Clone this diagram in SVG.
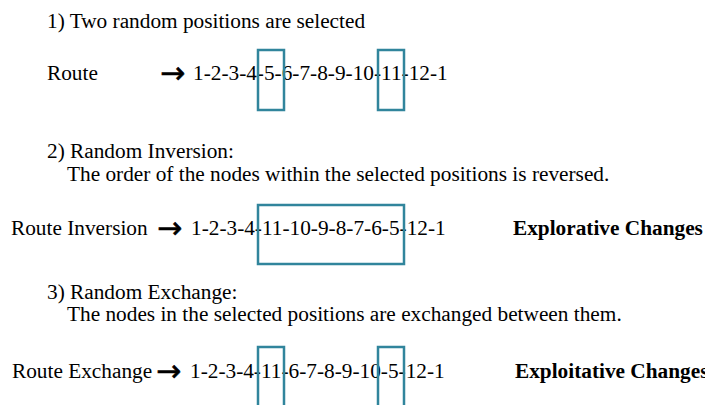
<svg xmlns="http://www.w3.org/2000/svg" width="705" height="405" viewBox="0 0 705 405">
<style>
text{font-family:"Liberation Serif","Times New Roman",serif;font-size:21.3px;fill:#000}
.b{font-weight:bold}
.arr{font-family:"DejaVu Sans",sans-serif;font-size:30px;stroke:#000;stroke-width:0.6}
.box{fill:none;stroke:#31859C;stroke-width:2.5}
</style>
<rect width="705" height="405" fill="#fff"/>
<g id="step1">
<text x="47" y="28">1) Two random positions are selected</text>
</g>
<g id="route">
<text x="47" y="80">Route</text>
<text class="arr" x="160" y="83">→</text>
<text x="193" y="80">1-2-3-4-5-6-7-8-9-10-11-12-1</text>
</g>
<g id="step2">
<text x="47" y="158">2) Random Inversion:</text>
<text x="67" y="181">The order of the nodes within the selected positions is reversed.</text>
</g>
<g id="inversion">
<text x="11" y="235">Route Inversion</text>
<text class="arr" x="157" y="238">→</text>
<text x="191" y="235">1-2-3-4-11-10-9-8-7-6-5-12-1</text>
<text class="b" x="513" y="235">Explorative Changes</text>
</g>
<g id="step3">
<text x="47" y="299">3) Random Exchange:</text>
<text x="67" y="321">The nodes in the selected positions are exchanged between them.</text>
</g>
<g id="exchange">
<text x="12" y="378">Route Exchange</text>
<text class="arr" x="156" y="381">→</text>
<text x="190" y="378">1-2-3-4-11-6-7-8-9-10-5-12-1</text>
<text class="b" x="515" y="378">Exploitative Changes</text>
</g>
<g id="connectors">
<rect class="box" x="258" y="50" width="26" height="60"/>
<rect class="box" x="378" y="50" width="26" height="60"/>
<rect class="box" x="258" y="205" width="146" height="59"/>
<path class="box" d="M258,410 V347 H284 V410"/>
<path class="box" d="M378,410 V347 H404 V410"/>
</g>
</svg>
